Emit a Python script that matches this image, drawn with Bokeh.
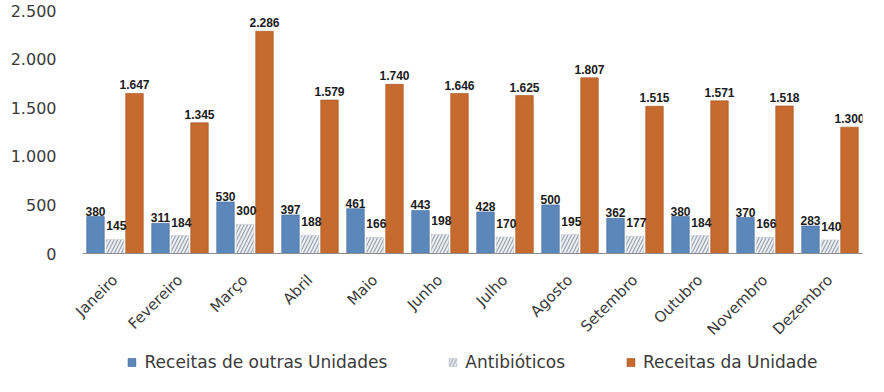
from bokeh.plotting import figure
from bokeh.layouts import column
from bokeh.models import (ColumnDataSource, FactorRange, Range1d, Legend, LegendItem,
                          FixedTicker, LabelSet, CustomJSTickFormatter)
from bokeh.transform import dodge
from bokeh.core.properties import value
from bokeh.embed import file_html
from bokeh.resources import INLINE

months = ["Janeiro", "Fevereiro", "Março", "Abril", "Maio", "Junho", "Julho",
          "Agosto", "Setembro", "Outubro", "Novembro", "Dezembro"]
outras = [380, 311, 530, 397, 461, 443, 428, 500, 362, 380, 370, 283]
antibioticos = [145, 184, 300, 188, 166, 198, 170, 195, 177, 184, 166, 140]
unidade = [1647, 1345, 2286, 1579, 1740, 1646, 1625, 1807, 1515, 1571, 1518, 1300]
y_ticks = [0, 500, 1000, 1500, 2000, 2500]
series_names = ["Receitas de outras Unidades", "Antibióticos", "Receitas da Unidade"]

def fmt(v):
    return f"{v:,}".replace(",", ".")

src = ColumnDataSource(dict(
    m=months, a=outras, b=antibioticos, c=unidade,
    la=[fmt(v) for v in outras], lb=[fmt(v) for v in antibioticos], lc=[fmt(v) for v in unidade],
))

styles = [dict(fill_color="#5B87BA", line_color="#41699B", line_width=0.6),
          dict(fill_color="#EEEFF2", line_color="#C8CCD4", line_width=0.6,
               hatch_pattern="/", hatch_color="#9AA3B2", hatch_scale=7, hatch_weight=1.2),
          dict(fill_color="#C66A2E", line_color="#A5531E", line_width=0.6)]
cols = ["a", "b", "c"]
offsets = [-0.3, 0.0, 0.3]
w = 0.27

p = figure(x_range=FactorRange(*months, range_padding=0), y_range=Range1d(0, 2500),
           width=868, height=348, output_backend="svg", toolbar_location=None,
           min_border_top=10, min_border_left=82, min_border_right=6, min_border_bottom=0)

for c, off, st in zip(cols, offsets, styles):
    p.vbar(x=dodge("m", off, range=p.x_range), top=c, width=w, source=src, **st)

common = dict(source=src, text_font_size="12px", text_font_style="bold",
              text_font=value("Liberation Sans"), text_align="center",
              text_color="#1a1a1a", text_baseline="bottom")
p.add_layout(LabelSet(x=dodge("m", -0.3, range=p.x_range), y="a", text="la", y_offset=1, **common))
p.add_layout(LabelSet(x=dodge("m", 0.02, range=p.x_range), y="b", text="lb", y_offset=9, **common))
p.add_layout(LabelSet(x=dodge("m", 0.3, range=p.x_range), y="c", text="lc", y_offset=4, **common))

p.yaxis.ticker = FixedTicker(ticks=y_ticks)
p.yaxis.formatter = CustomJSTickFormatter(code="return tick.toLocaleString('de-DE');")
p.yaxis.axis_line_color = None
p.yaxis.major_tick_line_color = None
p.yaxis.minor_tick_line_color = None
p.yaxis.major_label_text_font = "DejaVu Sans"
p.yaxis.major_label_text_font_size = "16px"
p.yaxis.major_label_text_color = "#3a3a3a"
p.yaxis.major_label_standoff = 20

p.xaxis.axis_line_color = "#8C8C8C"
p.xaxis.major_tick_line_color = None
p.xaxis.minor_tick_line_color = None
p.xaxis.major_label_orientation = 0.785
p.xaxis.major_label_text_font = "DejaVu Sans"
p.xaxis.major_label_text_font_size = "15px"
p.xaxis.major_label_text_color = "#3a3a3a"
p.xaxis.major_label_standoff = 18

p.xgrid.grid_line_color = None
p.ygrid.grid_line_color = None
p.outline_line_color = None

# legend strip: same series drawn off-range so only the legend shows
q = figure(x_range=FactorRange(*months, range_padding=0), y_range=Range1d(5000, 6000),
           width=868, height=28, output_backend="svg", toolbar_location=None,
           x_axis_location=None, y_axis_location=None,
           min_border_top=0, min_border_left=20, min_border_right=0, min_border_bottom=0)
q.outline_line_color = None
q.grid.grid_line_color = None
rs = [q.vbar(x=dodge("m", off, range=q.x_range), top=c, width=w, source=src, **st)
      for c, off, st in zip(cols, offsets, styles)]

legend = Legend(items=[LegendItem(label=n, renderers=[r]) for n, r in zip(series_names, rs)],
                orientation="horizontal", spacing=60, location="center",
                label_text_font="DejaVu Sans", label_text_font_size="17px",
                label_text_color="#3a3a3a", glyph_width=10, glyph_height=10,
                label_standoff=8, padding=0, margin=0, border_line_color=None,
                background_fill_alpha=0, label_height=17)
q.add_layout(legend)

open("out.html", "w").write(file_html(column(p, q), INLINE))
